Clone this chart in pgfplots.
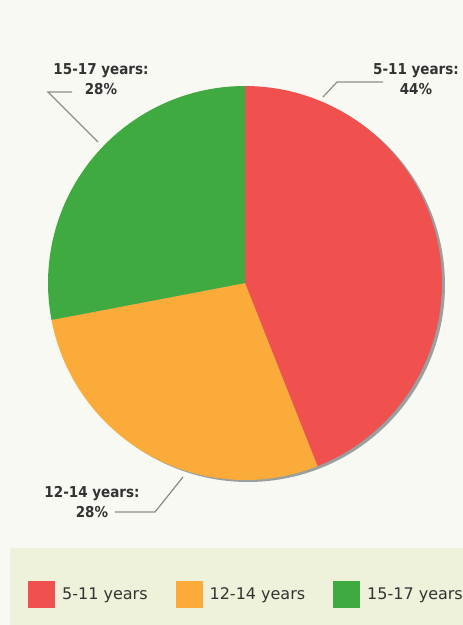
\documentclass[border=0pt]{standalone}
\usepackage{pgfplots}
\pgfplotsset{compat=1.18}
\usepackage{pgfplotstable}
\usepackage{fontspec}
\setmainfont{DejaVu Sans}
\newfontfamily\lblfont{DejaVu Sans Condensed}
\definecolor{pieRed}{HTML}{F0504E}
\definecolor{pieOrange}{HTML}{FAAB3A}
\definecolor{pieGreen}{HTML}{3FAA3F}
\definecolor{bgMain}{HTML}{F9F9F4}
\definecolor{bgBand}{HTML}{EEF2DA}
\definecolor{txt}{HTML}{333333}
\definecolor{leader}{HTML}{8C8C8C}
\definecolor{shadow}{HTML}{9A9FA0}

\pgfplotstableread{
label value
5-11 44
12-14 28
15-17 28
}\piedata

\begin{document}
\begin{tikzpicture}
\pgfplotstablegetelem{0}{value}\of\piedata \pgfmathsetmacro\va{\pgfplotsretval}
\pgfplotstablegetelem{1}{value}\of\piedata \pgfmathsetmacro\vb{\pgfplotsretval}
\pgfplotstablegetelem{2}{value}\of\piedata \pgfmathsetmacro\vc{\pgfplotsretval}
\pgfmathsetmacro\aA{3.6*\va}
\pgfmathsetmacro\aB{3.6*(\va+\vb)}
\pgfmathsetmacro\aC{3.6*(\va+\vb+\vc)}
\clip (0,0) rectangle (463pt,625pt);
\fill[bgMain] (0,0) rectangle (463pt,625pt);
\fill[bgBand] (10pt,0) rectangle (463pt,77pt);
\begin{axis}[
  at={(0,0)}, anchor=south west,
  scale only axis, width=463pt, height=625pt,
  xmin=0, xmax=463, ymin=0, ymax=625, y dir=reverse,
  axis lines=none, clip=false,
  legend columns=3,
  legend style={draw=none, fill=none, at={(axis cs:28,594)}, anchor=west,
    font=\fontsize{16}{19}\selectfont, text=txt, inner sep=0pt,
    nodes={inner sep=0pt, anchor=west},
    /tikz/every odd column/.append style={column sep=7pt},
    /tikz/every even column/.append style={column sep=28pt}},
  legend image code/.code={\fill[#1, draw=none] (0pt,-13.5pt) rectangle (27pt,13.5pt);},
]
\addplot[fill=shadow, draw=none, domain=0:360, samples=180, forget plot]
  ({248+197*sin(x)},{285-197*cos(x)});
\addplot[fill=pieRed, draw=none, domain=0:\aA, samples=120]
  ({245+197*sin(x)},{283-197*cos(x)}) -- (axis cs:245,283) -- cycle;
\addlegendentry{5-11 years}
\addplot[fill=pieOrange, draw=none, domain=\aA:\aB, samples=80]
  ({245+197*sin(x)},{283-197*cos(x)}) -- (axis cs:245,283) -- cycle;
\addlegendentry{12-14 years}
\addplot[fill=pieGreen, draw=none, domain=\aB:\aC, samples=80]
  ({245+197*sin(x)},{283-197*cos(x)}) -- (axis cs:245,283) -- cycle;
\addlegendentry{15-17 years}
\draw[leader, line width=1.2pt] (axis cs:72,92) -- (axis cs:48,92) -- (axis cs:98,142);
\draw[leader, line width=1.2pt] (axis cs:383,82) -- (axis cs:337,82) -- (axis cs:323,97);
\draw[leader, line width=1.2pt] (axis cs:115,512) -- (axis cs:155,512) -- (axis cs:183,477);
\node[font=\lblfont\bfseries\fontsize{15}{19.5}\selectfont, text=txt, align=center] at (axis cs:101,79) {15-17 years:\\28\%};
\node[font=\lblfont\bfseries\fontsize{15}{19.5}\selectfont, text=txt, align=center] at (axis cs:416,79) {5-11 years:\\44\%};
\node[font=\lblfont\bfseries\fontsize{15}{19.5}\selectfont, text=txt, align=center] at (axis cs:92,502) {12-14 years:\\28\%};
\end{axis}
\end{tikzpicture}
\end{document}
